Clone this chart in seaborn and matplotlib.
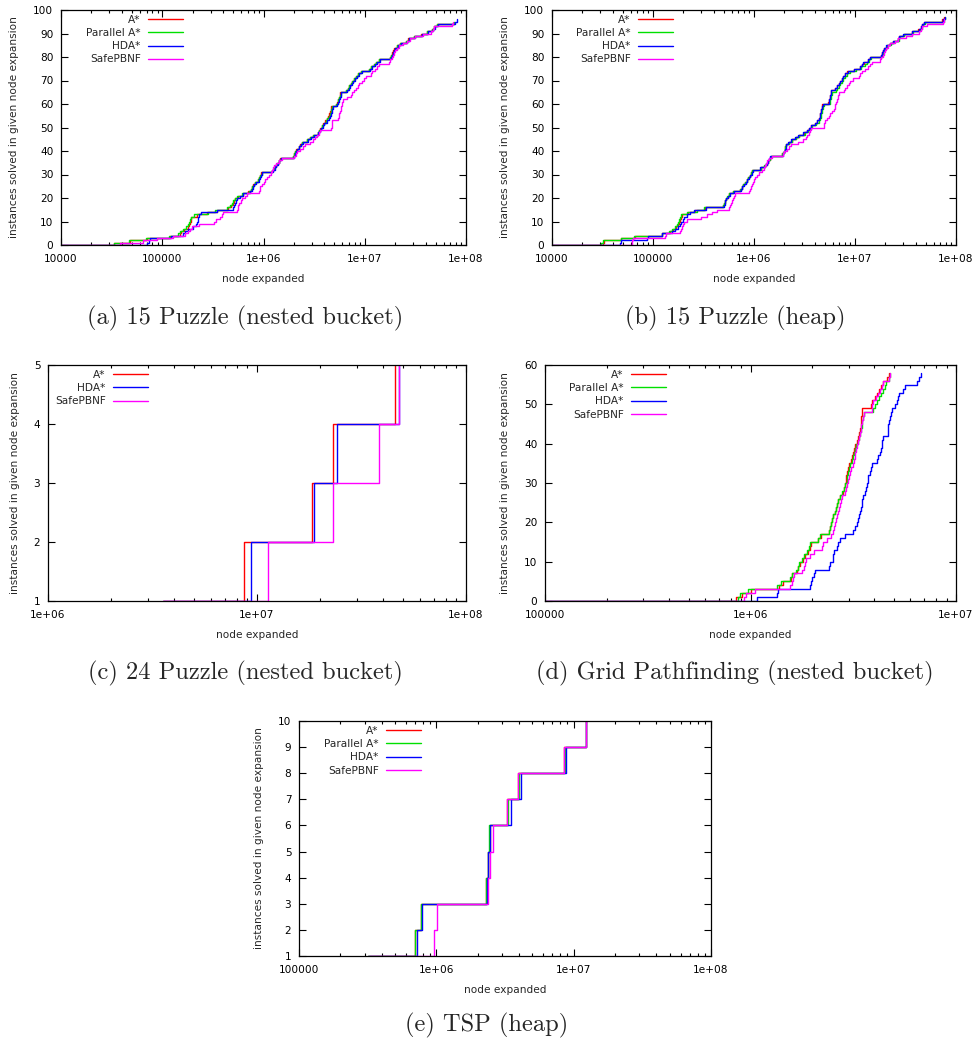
import numpy as np
import pandas as pd
import matplotlib
matplotlib.use("Agg")
import matplotlib.pyplot as plt
import seaborn as sns
from matplotlib.ticker import LogLocator, NullFormatter

# ---------------- data: log10(node expansions) at which each instance is solved -------------
# (a) 15 Puzzle (nested bucket)
a_astar = [4.52, 4.68, 4.85, 5.08, 5.18, 5.19, 5.21, 5.25, 5.26, 5.27, 5.28, 5.28, 5.34, 5.44, 5.54,
           5.65, 5.68, 5.70, 5.71, 5.72, 5.75, 5.80, 5.85, 5.88, 5.89, 5.90, 5.92, 5.95, 5.96, 5.97,
           5.98, 6.08, 6.10, 6.12, 6.13, 6.15, 6.16, 6.29, 6.30, 6.31, 6.32, 6.35, 6.36, 6.38, 6.43,
           6.46, 6.49, 6.54, 6.55, 6.56, 6.58, 6.59, 6.61, 6.63, 6.64, 6.65, 6.66, 6.665, 6.67, 6.72,
           6.73, 6.74, 6.75, 6.755, 6.76, 6.81, 6.83, 6.84, 6.86, 6.87, 6.89, 6.91, 6.93, 6.96, 7.04,
           7.06, 7.09, 7.11, 7.14, 7.25, 7.26, 7.27, 7.28, 7.29, 7.32, 7.35, 7.41, 7.43, 7.49, 7.56,
           7.61, 7.66, 7.68, 7.71, 7.88]
a_pastar = [4.52, 4.67, 4.84, 5.07, 5.16, 5.18, 5.20, 5.23, 5.25, 5.26, 5.27, 5.28, 5.31, 5.45, 5.52,
            5.64, 5.67, 5.69, 5.70, 5.72, 5.74, 5.79, 5.86, 5.88, 5.89, 5.91, 5.92, 5.95, 5.96, 5.97,
            5.99, 6.08, 6.10, 6.11, 6.13, 6.15, 6.17, 6.29, 6.30, 6.31, 6.33, 6.35, 6.37, 6.38, 6.43,
            6.46, 6.49, 6.54, 6.55, 6.57, 6.58, 6.60, 6.62, 6.63, 6.65, 6.66, 6.665, 6.67, 6.675, 6.72,
            6.735, 6.74, 6.75, 6.76, 6.765, 6.81, 6.83, 6.845, 6.86, 6.875, 6.89, 6.91, 6.93, 6.96, 7.04,
            7.065, 7.09, 7.11, 7.14, 7.25, 7.26, 7.275, 7.285, 7.295, 7.32, 7.35, 7.41, 7.435, 7.49,
            7.565, 7.615, 7.665, 7.685, 7.71, 7.88]
a_hda = [4.85, 4.87, 4.88, 5.09, 5.20, 5.22, 5.25, 5.30, 5.33, 5.34, 5.35, 5.35, 5.36, 5.38, 5.54,
         5.70, 5.71, 5.72, 5.73, 5.74, 5.77, 5.80, 5.87, 5.89, 5.90, 5.91, 5.93, 5.96, 5.97, 5.98,
         5.99, 6.09, 6.11, 6.12, 6.14, 6.15, 6.17, 6.30, 6.31, 6.32, 6.33, 6.35, 6.37, 6.39, 6.44,
         6.47, 6.50, 6.54, 6.56, 6.57, 6.59, 6.60, 6.63, 6.65, 6.66, 6.67, 6.675, 6.68, 6.685, 6.73,
         6.74, 6.75, 6.76, 6.765, 6.77, 6.82, 6.84, 6.85, 6.87, 6.88, 6.90, 6.92, 6.94, 6.97, 7.05,
         7.07, 7.10, 7.12, 7.15, 7.26, 7.27, 7.28, 7.29, 7.30, 7.33, 7.36, 7.42, 7.44, 7.50, 7.57,
         7.62, 7.67, 7.69, 7.72, 7.89, 7.91]
a_pbnf = [4.58, 4.81, 4.95, 5.11, 5.22, 5.25, 5.27, 5.29, 5.36, 5.51, 5.53, 5.57, 5.59, 5.60, 5.74,
          5.745, 5.75, 5.76, 5.78, 5.79, 5.82, 5.84, 5.96, 5.965, 5.97, 5.99, 6.00, 6.01, 6.03, 6.05,
          6.07, 6.08, 6.09, 6.10, 6.12, 6.15, 6.18, 6.30, 6.32, 6.33, 6.36, 6.39, 6.41, 6.46, 6.49,
          6.51, 6.53, 6.55, 6.56, 6.67, 6.672, 6.675, 6.68, 6.74, 6.745, 6.75, 6.76, 6.765, 6.77,
          6.775, 6.78, 6.79, 6.82, 6.86, 6.87, 6.89, 6.91, 6.93, 6.94, 6.97, 6.99, 7.01, 7.06, 7.07,
          7.10, 7.12, 7.14, 7.24, 7.25, 7.27, 7.28, 7.29, 7.30, 7.32, 7.34, 7.38, 7.42, 7.45, 7.50,
          7.58, 7.65, 7.67, 7.68, 7.86, 7.87]

# (b) 15 Puzzle (heap)
b_astar = [4.50, 4.51, 4.68, 4.82, 5.09, 5.17, 5.20, 5.23, 5.25, 5.26, 5.27, 5.28, 5.29, 5.35, 5.42,
           5.51, 5.69, 5.70, 5.71, 5.72, 5.74, 5.755, 5.795, 5.865, 5.88, 5.895, 5.915, 5.93, 5.945,
           5.96, 5.975, 5.985, 6.065, 6.105, 6.125, 6.14, 6.155, 6.165, 6.28, 6.295, 6.305, 6.31,
           6.318, 6.345, 6.375, 6.415, 6.445, 6.495, 6.525, 6.545, 6.565, 6.605, 6.625, 6.645, 6.652,
           6.657, 6.662, 6.668, 6.672, 6.678, 6.735, 6.745, 6.752, 6.757, 6.762, 6.767, 6.805, 6.82,
           6.84, 6.852, 6.872, 6.882, 6.902, 6.925, 6.995, 7.05, 7.07, 7.085, 7.13, 7.15, 7.262, 7.272,
           7.282, 7.292, 7.312, 7.35, 7.38, 7.43, 7.437, 7.482, 7.562, 7.628, 7.652, 7.662, 7.68,
           7.86, 7.88]
b_pastar = [4.49, 4.50, 4.68, 4.81, 5.09, 5.16, 5.19, 5.22, 5.24, 5.25, 5.26, 5.27, 5.28, 5.34, 5.44,
            5.50, 5.69, 5.70, 5.71, 5.72, 5.735, 5.75, 5.79, 5.86, 5.88, 5.89, 5.91, 5.93, 5.94, 5.96,
            5.97, 5.98, 6.07, 6.10, 6.12, 6.14, 6.155, 6.17, 6.28, 6.30, 6.305, 6.31, 6.32, 6.35, 6.38,
            6.42, 6.45, 6.50, 6.53, 6.55, 6.57, 6.61, 6.64, 6.65, 6.66, 6.665, 6.67, 6.675, 6.68, 6.69,
            6.75, 6.755, 6.76, 6.765, 6.77, 6.81, 6.82, 6.84, 6.85, 6.87, 6.88, 6.90, 6.92, 6.95, 7.01,
            7.06, 7.10, 7.12, 7.14, 7.16, 7.27, 7.28, 7.29, 7.30, 7.32, 7.36, 7.39, 7.44, 7.445, 7.49,
            7.57, 7.64, 7.66, 7.67, 7.69, 7.88, 7.89]
b_hda = [4.67, 4.68, 4.94, 4.95, 5.09, 5.19, 5.22, 5.25, 5.27, 5.28, 5.30, 5.31, 5.34, 5.37, 5.41,
         5.52, 5.70, 5.71, 5.715, 5.72, 5.74, 5.76, 5.80, 5.87, 5.88, 5.90, 5.92, 5.93, 5.95, 5.96,
         5.98, 5.99, 6.06, 6.11, 6.13, 6.14, 6.15, 6.16, 6.285, 6.30, 6.31, 6.315, 6.32, 6.34, 6.37,
         6.41, 6.44, 6.49, 6.52, 6.54, 6.56, 6.60, 6.62, 6.64, 6.65, 6.655, 6.66, 6.665, 6.67, 6.68,
         6.74, 6.745, 6.75, 6.755, 6.76, 6.765, 6.80, 6.82, 6.84, 6.85, 6.87, 6.88, 6.90, 6.93, 6.99,
         7.05, 7.07, 7.08, 7.13, 7.15, 7.26, 7.27, 7.28, 7.29, 7.31, 7.35, 7.38, 7.43, 7.435, 7.48,
         7.56, 7.63, 7.65, 7.66, 7.68, 7.875, 7.89]
b_pbnf = [4.79, 4.79, 4.80, 5.12, 5.13, 5.27, 5.28, 5.29, 5.30, 5.31, 5.34, 5.48, 5.53, 5.58, 5.63,
          5.75, 5.76, 5.77, 5.78, 5.79, 5.80, 5.81, 5.95, 5.96, 5.97, 5.98, 5.99, 6.00, 6.01, 6.03,
          6.05, 6.08, 6.10, 6.11, 6.12, 6.13, 6.15, 6.18, 6.29, 6.30, 6.33, 6.35, 6.37, 6.44, 6.49,
          6.51, 6.52, 6.54, 6.55, 6.56, 6.69, 6.695, 6.70, 6.72, 6.74, 6.75, 6.77, 6.79, 6.80, 6.805,
          6.81, 6.82, 6.83, 6.835, 6.84, 6.89, 6.90, 6.92, 6.94, 6.95, 6.98, 7.04, 7.05, 7.07, 7.10,
          7.13, 7.15, 7.17, 7.25, 7.26, 7.28, 7.29, 7.30, 7.31, 7.33, 7.35, 7.40, 7.43, 7.50, 7.56,
          7.63, 7.65, 7.66, 7.71, 7.87, 7.88]

# (c) 24 Puzzle (nested bucket)
c_astar = [6.55, 6.936, 7.263, 7.362, 7.662]
c_hda = [6.55, 6.973, 7.271, 7.383, 7.681]
c_pbnf = [6.55, 7.051, 7.364, 7.582, 7.681]

# (d) Grid Pathfinding (nested bucket)
d_astar = [5.93, 5.96, 6.00, 6.14, 6.16, 6.195, 6.20, 6.225, 6.23, 6.24, 6.255, 6.265, 6.28, 6.29,
           6.295, 6.33, 6.345, 6.38, 6.385, 6.39, 6.395, 6.40, 6.41, 6.415, 6.42, 6.425, 6.435, 6.45,
           6.455, 6.46, 6.465, 6.467, 6.47, 6.475, 6.48, 6.49, 6.495, 6.50, 6.505, 6.51, 6.52, 6.525,
           6.53, 6.535, 6.537, 6.539, 6.54, 6.541, 6.542, 6.585, 6.59, 6.605, 6.615, 6.625, 6.635,
           6.645, 6.665, 6.675]
d_pastar = [5.94, 5.95, 5.99, 6.13, 6.15, 6.19, 6.20, 6.22, 6.23, 6.235, 6.25, 6.26, 6.275, 6.285,
            6.29, 6.33, 6.34, 6.38, 6.385, 6.39, 6.395, 6.40, 6.41, 6.415, 6.42, 6.425, 6.435, 6.445,
            6.455, 6.46, 6.47, 6.472, 6.475, 6.48, 6.485, 6.495, 6.50, 6.505, 6.51, 6.515, 6.525,
            6.53, 6.535, 6.54, 6.542, 6.545, 6.547, 6.55, 6.595, 6.605, 6.615, 6.625, 6.635, 6.645,
            6.655, 6.66, 6.675, 6.68]
d_hda = [6.03, 6.13, 6.135, 6.29, 6.293, 6.30, 6.31, 6.314, 6.38, 6.387, 6.40, 6.403, 6.406, 6.42,
         6.427, 6.436, 6.46, 6.50, 6.509, 6.517, 6.525, 6.53, 6.533, 6.537, 6.541, 6.545, 6.549,
         6.555, 6.562, 6.567, 6.57, 6.573, 6.58, 6.585, 6.59, 6.618, 6.622, 6.63, 6.635, 6.638,
         6.642, 6.646, 6.668, 6.67, 6.671, 6.675, 6.679, 6.683, 6.687, 6.703, 6.715, 6.72, 6.724,
         6.74, 6.752, 6.809, 6.822, 6.828]
d_pbnf = [5.97, 5.98, 6.02, 6.19, 6.20, 6.205, 6.21, 6.25, 6.26, 6.265, 6.27, 6.29, 6.31, 6.35,
          6.355, 6.37, 6.39, 6.40, 6.405, 6.41, 6.415, 6.42, 6.425, 6.43, 6.435, 6.44, 6.445, 6.46,
          6.465, 6.47, 6.475, 6.48, 6.485, 6.49, 6.50, 6.505, 6.507, 6.51, 6.515, 6.52, 6.525, 6.53,
          6.535, 6.537, 6.54, 6.545, 6.547, 6.55, 6.59, 6.592, 6.595, 6.61, 6.62, 6.63, 6.64, 6.645,
          6.675, 6.68]

# (e) TSP (heap)
e_astar = [5.50, 5.847, 5.89, 6.364, 6.376, 6.388, 6.517, 6.595, 6.927, 7.092]
e_pastar = [5.50, 5.842, 5.89, 6.364, 6.376, 6.384, 6.522, 6.600, 6.935, 7.092]
e_hda = [5.50, 5.859, 5.898, 6.368, 6.376, 6.393, 6.546, 6.614, 6.947, 7.092]
e_pbnf = [5.52, 5.983, 6.005, 6.376, 6.388, 6.413, 6.517, 6.595, 6.927, 7.092]

COLORS = {"A*": "#ff0000", "Parallel A*": "#00e000", "HDA*": "#0000ff", "SafePBNF": "#ff00ff"}

panels = [
    dict(series=[("A*", a_astar), ("Parallel A*", a_pastar), ("HDA*", a_hda), ("SafePBNF", a_pbnf)],
         rect=[61, 10, 466, 245], xlim=(1e4, 1e8), ylim=(0, 100), yticks=list(range(0, 101, 10)),
         xticks=[1e4, 1e5, 1e6, 1e7, 1e8], xlabels=["10000", "100000", "1e+06", "1e+07", "1e+08"],
         leg_x=122, caption="(a) 15 Puzzle (nested bucket)", cap=(245, 318)),
    dict(series=[("A*", b_astar), ("Parallel A*", b_pastar), ("HDA*", b_hda), ("SafePBNF", b_pbnf)],
         rect=[552, 10, 956, 245], xlim=(1e4, 1e8), ylim=(0, 100), yticks=list(range(0, 101, 10)),
         xticks=[1e4, 1e5, 1e6, 1e7, 1e8], xlabels=["10000", "100000", "1e+06", "1e+07", "1e+08"],
         leg_x=121, caption="(b) 15 Puzzle (heap)", cap=(735, 318)),
    dict(series=[("A*", c_astar), ("HDA*", c_hda), ("SafePBNF", c_pbnf)],
         rect=[48, 365, 466, 601], xlim=(1e6, 1e8), ylim=(1, 5), yticks=[1, 2, 3, 4, 5],
         xticks=[1e6, 1e7, 1e8], xlabels=["1e+06", "1e+07", "1e+08"],
         leg_x=100, caption="(c) 24 Puzzle (nested bucket)", cap=(245, 673)),
    dict(series=[("A*", d_astar), ("Parallel A*", d_pastar), ("HDA*", d_hda), ("SafePBNF", d_pbnf)],
         rect=[545, 365, 956, 601], xlim=(1e5, 1e7), ylim=(0, 60), yticks=list(range(0, 61, 10)),
         xticks=[1e5, 1e6, 1e7], xlabels=["100000", "1e+06", "1e+07"],
         leg_x=121, caption="(d) Grid Pathfinding (nested bucket)", cap=(735, 673)),
    dict(series=[("A*", e_astar), ("Parallel A*", e_pastar), ("HDA*", e_hda), ("SafePBNF", e_pbnf)],
         rect=[299, 721, 711, 956], xlim=(1e5, 1e8), ylim=(1, 10), yticks=list(range(1, 11)),
         xticks=[1e5, 1e6, 1e7, 1e8], xlabels=["100000", "1e+06", "1e+07", "1e+08"],
         leg_x=122, caption="(e) TSP (heap)", cap=(487, 1025)),
]

sns.set_style("ticks")
plt.rcParams["font.family"] = ["DejaVu Sans"]

W, H = 977, 1043
fig = plt.figure(figsize=(W / 100, H / 100), dpi=100)

FS = 7.6
for p in panels:
    l, t, r, b = p["rect"]
    ax = fig.add_axes([l / W, 1 - b / H, (r - l) / W, (b - t) / H])
    for name, vals in p["series"]:
        df = pd.DataFrame({"nodes": np.power(10.0, np.asarray(vals, dtype=float))})
        # ECDF computed on linear values (first step starts at -inf), axis switched to log below
        sns.ecdfplot(data=df, x="nodes", stat="count", ax=ax,
                     color=COLORS[name], linewidth=1.0, label=name)
    ax.set_xscale("log", nonpositive="clip")
    ax.set_xlim(*p["xlim"])
    ax.set_ylim(*p["ylim"])
    ax.set_xticks(p["xticks"])
    ax.set_xticklabels(p["xlabels"])
    ax.xaxis.set_minor_locator(LogLocator(base=10, subs=np.arange(2, 10)))
    ax.xaxis.set_minor_formatter(NullFormatter())
    ax.set_yticks(p["yticks"])
    ax.tick_params(which="both", direction="in", top=True, right=True, labelsize=FS,
                   colors="black", width=0.8)
    ax.tick_params(which="major", length=5)
    ax.tick_params(axis="x", which="major", pad=6.5)
    ax.tick_params(axis="y", which="major", pad=5.5)
    ax.tick_params(which="minor", length=2.5)
    for s in ax.spines.values():
        s.set_linewidth(0.9)
        s.set_color("black")
    ax.set_xlabel("node expanded", fontsize=FS, labelpad=7)
    ax.set_ylabel("instances solved in given node expansion", fontsize=FS, labelpad=10)
    ax.legend(loc="upper right", bbox_to_anchor=(p["leg_x"] / (r - l), 1 - 5 / (b - t)),
              markerfirst=False, frameon=False, fontsize=FS, handlelength=3.3,
              labelspacing=0.3, handletextpad=0.7, borderaxespad=0, borderpad=0)
    fig.text(p["cap"][0] / W, 1 - p["cap"][1] / H, p["caption"], ha="center", va="center",
             fontsize=17.6, family="cmr10")

fig.savefig("out.png", dpi=100)
